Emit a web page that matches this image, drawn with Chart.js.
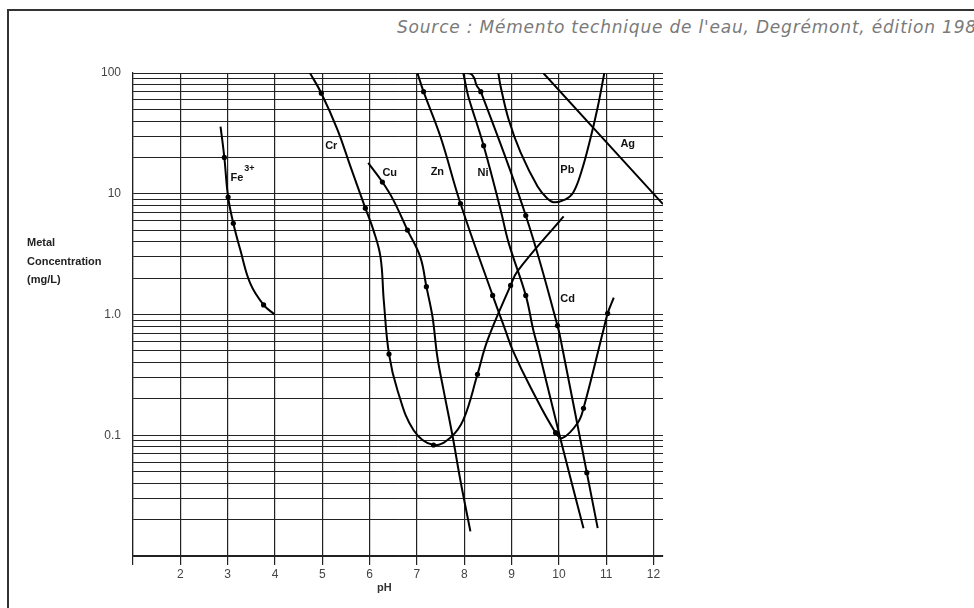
<!DOCTYPE html>
<html>
<head>
<meta charset="utf-8">
<title>Solubilité des hydroxydes métalliques</title>
<script src="https://cdn.jsdelivr.net/npm/chart.js@4.4.1/dist/chart.umd.min.js"></script>
<style>
  html, body { margin: 0; padding: 0; background: #fff; }
  #wrap { position: relative; width: 974px; height: 608px; overflow: hidden; }
  #frame { position: absolute; left: 7px; top: 9px; width: 1100px; height: 800px; border: 2px solid #333; }
  #source { position: absolute; left: 397px; top: 17px; white-space: nowrap;
            font: italic 17px "DejaVu Sans", Verdana, sans-serif; letter-spacing: 0.8px; color: #7a7a7a; }
  canvas { position: absolute; left: 0; top: 0; }
</style>
</head>
<body>
<div id="wrap">
  <div id="frame"></div>
  <div id="source">Source : Mémento technique de l'eau, Degrémont, édition 1989</div>
  <canvas id="chart" width="974" height="608"></canvas>
</div>
<script>
// Valeurs : pH (x) et concentration en mg/L (y)
const feX = [2.85, 2.93, 3.01, 3.12, 3.27, 3.48, 3.76, 3.99];
const feY = [36, 20, 9.4, 5.7, 3.4, 1.8, 1.2, 1.0];

const crX = [4.74, 4.98, 5.32, 5.60, 5.91, 6.08, 6.23, 6.30, 6.41, 6.59, 6.93, 7.35, 7.71, 7.98, 8.28, 8.49, 8.98, 9.13, 10.10];
const crY = [100, 68, 34, 16.6, 7.6, 5.0, 3.0, 1.3, 0.47, 0.235, 0.11, 0.083, 0.096, 0.134, 0.32, 0.61, 1.74, 2.3, 6.5];

const cuX = [5.97, 6.27, 6.50, 6.80, 7.07, 7.20, 7.33, 7.43, 7.56, 7.75, 7.92, 8.13];
const cuY = [18, 12.5, 8.9, 5.0, 3.0, 1.7, 0.95, 0.45, 0.24, 0.1, 0.042, 0.016];

const znX = [7.01, 7.14, 7.50, 7.92, 8.60, 8.87, 9.02, 9.40, 9.93, 10.08, 10.40, 10.52, 10.94, 11.03, 11.16];
const znY = [100, 70, 29.5, 8.3, 1.44, 0.74, 0.51, 0.25, 0.105, 0.095, 0.127, 0.167, 0.74, 1.02, 1.38];

const niX = [7.98, 8.03, 8.09, 8.41, 8.77, 8.94, 9.30, 9.46, 9.57, 10.04, 10.52];
const niY = [100, 80, 63, 25, 7.3, 3.9, 1.44, 0.74, 0.51, 0.091, 0.017];

const cdX = [7.98, 8.13, 8.21, 8.26, 8.35, 9.30, 9.97, 10.08, 10.59, 10.82];
const cdY = [100, 99, 91, 79, 70, 6.6, 0.81, 0.51, 0.049, 0.017];

const pbX = [8.72, 8.77, 8.94, 9.19, 9.55, 9.76, 9.89, 10.14, 10.30, 10.47, 10.66, 10.82, 10.96];
const pbY = [100, 77, 41, 22, 11.5, 9.1, 8.5, 9.0, 10.2, 15, 28, 52, 100];

const agX = [9.67, 12.2];
const agY = [100, 8.2];

// Graduations
const xTicks = [1, 2, 3, 4, 5, 6, 7, 8, 9, 10, 11, 12];
const yDecades = [0.01, 0.1, 1, 10];
const ySteps = [1, 2, 3, 4, 5, 6, 7, 8, 9];
const yTickLabels = { '100': '100', '10': '10', '1': '1.0', '0.1': '0.1' };
const yTitle = ['Metal', 'Concentration', '(mg/L)'];

const yGrid = yDecades.flatMap(d => ySteps.map(s => +(d * s).toPrecision(3))).concat([100]);

function points(xs, ys) {
    return xs.map((x, i) => ({ x: x, y: ys[i] }));
}

// Courbe avec petits points aux indices marqués
function curve(label, xs, ys, marked) {
    return {
        label: label,
        data: points(xs, ys),
        borderColor: '#000',
        borderWidth: 2,
        pointBackgroundColor: '#000',
        pointBorderWidth: 0,
        pointRadius: (c) => marked.includes(c.dataIndex) ? 2.6 : 0,
        tension: 0.4,
        fill: false
    };
}

// Étiquettes des courbes (pH, mg/L du coin gauche)
const curveLabels = [
    { text: 'Cr', ph: 5.06, c: 25 },
    { text: 'Cu', ph: 6.27, c: 14.8 },
    { text: 'Zn', ph: 7.29, c: 15.2 },
    { text: 'Ni', ph: 8.28, c: 14.8 },
    { text: 'Pb', ph: 10.03, c: 15.8 },
    { text: 'Ag', ph: 11.30, c: 26 },
    { text: 'Cd', ph: 10.03, c: 1.34 }
];

const annotations = {
    id: 'annotations',
    afterDraw(chart) {
        const { ctx, scales: { x, y } } = chart;
        ctx.save();
        ctx.fillStyle = '#111';
        ctx.textBaseline = 'middle';
        ctx.textAlign = 'left';
        ctx.font = 'bold 11px "Liberation Sans", Arial, sans-serif';
        curveLabels.forEach(l => {
            ctx.fillText(l.text, x.getPixelForValue(l.ph), y.getPixelForValue(l.c));
        });

        // Fe3+
        const fx = x.getPixelForValue(3.06), fy = y.getPixelForValue(13.5);
        ctx.fillText('Fe', fx, fy);
        const w = ctx.measureText('Fe').width;
        ctx.font = 'bold 9px "Liberation Sans", Arial, sans-serif';
        ctx.fillText('3+', fx + w + 1, fy - 9);

        // Titre de l'axe vertical
        ctx.font = 'bold 11px "Liberation Sans", Arial, sans-serif';
        ctx.fillStyle = '#222';
        yTitle.forEach((t, i) => ctx.fillText(t, 27, 243 + i * 18.5));

        // Titre de l'axe horizontal
        ctx.fillStyle = '#333';
        ctx.fillText('pH', 377, 588);
        ctx.restore();
    }
};

new Chart(document.getElementById('chart'), {
    type: 'line',
    data: {
        datasets: [
            curve('Fe3+', feX, feY, [1, 2, 3, 6]),
            curve('Cr', crX, crY, [1, 4, 8, 11, 14, 16]),
            curve('Cu', cuX, cuY, [1, 3, 5]),
            curve('Zn', znX, znY, [1, 3, 4, 8, 11, 13]),
            curve('Ni', niX, niY, [3, 6]),
            curve('Cd', cdX, cdY, [4, 5, 6, 8]),
            curve('Pb', pbX, pbY, []),
            curve('Ag', agX, agY, [])
        ]
    },
    options: {
        responsive: false,
        animation: false,
        events: [],
        layout: { padding: { left: 0, top: 73, right: 311, bottom: 10 } },
        plugins: {
            legend: { display: false },
            tooltip: { enabled: false }
        },
        scales: {
            x: {
                type: 'linear',
                min: 1,
                max: 12.2,
                afterBuildTicks: (s) => { s.ticks = xTicks.map(v => ({ value: v })); },
                afterFit: (s) => { s.height = 42; },
                border: { color: '#222', width: 1.2 },
                grid: { color: '#222', lineWidth: 1.2, drawTicks: true, tickLength: 9, tickColor: '#222' },
                ticks: {
                    autoSkip: false,
                    maxRotation: 0,
                    padding: 2,
                    color: '#444',
                    font: { family: '"Liberation Sans", Arial, sans-serif', size: 12 },
                    callback: (v) => v === 1 ? '' : String(v)
                }
            },
            y: {
                type: 'logarithmic',
                min: 0.01,
                max: 100,
                afterBuildTicks: (s) => { s.ticks = yGrid.map(v => ({ value: v })); },
                afterFit: (s) => { s.width = 133; },
                border: { color: '#222', width: 1.2 },
                grid: { color: '#222', lineWidth: 1, drawTicks: false },
                ticks: {
                    autoSkip: false,
                    padding: 12,
                    color: '#444',
                    font: { family: '"Liberation Sans", Arial, sans-serif', size: 12 },
                    callback: (v) => yTickLabels[String(+Number(v).toPrecision(3))] || ''
                }
            }
        }
    },
    plugins: [annotations]
});
</script>
</body>
</html>
